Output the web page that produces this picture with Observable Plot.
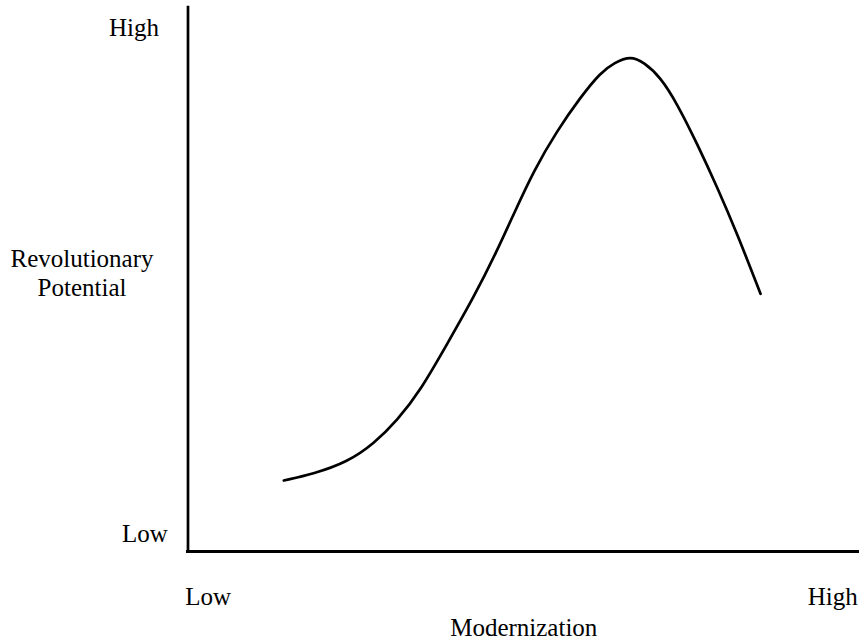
<!DOCTYPE html>
<html>
<head>
<meta charset="utf-8">
<script src="https://cdn.jsdelivr.net/npm/d3@7"></script>
<script src="https://cdn.jsdelivr.net/npm/@observablehq/plot@0.6"></script>
<style>
  html, body { margin: 0; padding: 0; background: #fff; }
  #chart svg { display: block; }
  #chart svg text { font-family: "Liberation Serif", "Times New Roman", Times, "DejaVu Serif", serif !important; }
</style>
</head>
<body>
<div id="chart"></div>
<script>
// Curve (modernization vs revolutionary potential, 0–100 scale)
const modernization = [14.27, 18.73, 23.71, 27.67, 31.15, 34.62, 38.60, 42.56, 46.05, 48.52, 51.50, 54.98, 58.45, 61.43, 63.52, 65.90, 67.88, 70.37, 72.85, 75.83, 78.81, 81.79, 85.26];
const potential     = [13.05, 14.28, 16.42, 19.80, 24.08, 29.60, 38.18, 46.75, 55.33, 62.08, 70.04, 77.39, 83.51, 88.05, 89.89, 91.10, 89.94, 87.19, 82.30, 74.94, 66.97, 58.40, 47.37];

// Tick positions and labels
const tickValues = [3, 96];
const tickLabels = ["Low", "High"];
const xTitle = "Modernization";
const yTitle = "Revolutionary\nPotential";

const data = modernization.map((m, i) => ({x: m, y: potential[i]}));
const tickData = tickValues.map((v, i) => ({v, label: tickLabels[i]}));

const font = "Liberation Serif, Times New Roman, Times, DejaVu Serif, serif";
const txt = {fontFamily: font, fontSize: 25, fill: "#000"};

const chart = Plot.plot({
  width: 859,
  height: 643,
  marginLeft: 187.5,
  marginRight: 0,
  marginTop: 7,
  marginBottom: 92,
  style: {fontFamily: font, fontSize: "25px", color: "#000", background: "#fff"},
  x: {domain: [0, 100], axis: null},
  y: {domain: [0, 100], axis: null},
  marks: [
    Plot.ruleX([0], {stroke: "#000", strokeWidth: 2.7, strokeLinecap: "square"}),
    Plot.ruleY([0], {stroke: "#000", strokeWidth: 3, strokeLinecap: "square"}),
    Plot.line(data, {x: "x", y: "y", curve: "basis", stroke: "#000", strokeWidth: 2.7}),
    // x tick labels
    Plot.text(tickData, {x: "v", text: "label", frameAnchor: "bottom", lineAnchor: "bottom", dy: 53, ...txt}),
    // y tick labels
    Plot.text([tickData[1]], {y: "v", text: "label", frameAnchor: "left", textAnchor: "middle", lineAnchor: "bottom", dx: -54, dy: 7, ...txt}),
    Plot.text([tickData[0]], {y: "v", text: "label", frameAnchor: "left", textAnchor: "middle", lineAnchor: "bottom", dx: -43, dy: 7, ...txt}),
    // axis titles
    Plot.text([xTitle], {text: d => d, frameAnchor: "bottom", lineAnchor: "bottom", dy: 84, ...txt}),
    Plot.text([yTitle], {text: d => d, frameAnchor: "left", textAnchor: "middle", lineAnchor: "bottom", lineHeight: 1.16, dx: -106, dy: 16, ...txt})
  ]
});
document.getElementById("chart").appendChild(chart);
</script>
</body>
</html>
